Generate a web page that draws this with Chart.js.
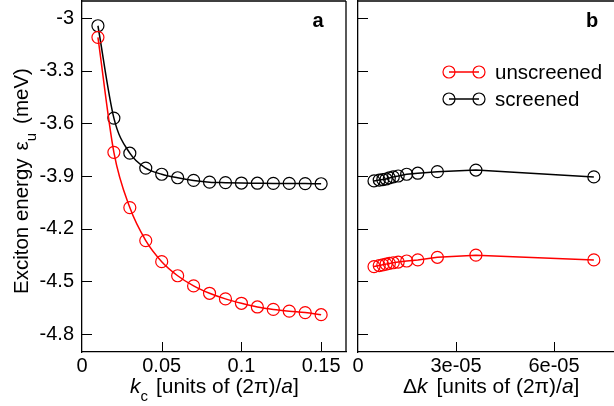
<!DOCTYPE html>
<html>
<head>
<meta charset="utf-8">
<script src="https://cdn.jsdelivr.net/npm/chart.js@4.4.0/dist/chart.umd.min.js"></script>
<style>
body { margin: 0; background: #fff; }
#wrap { position: relative; width: 614px; height: 406px; overflow: hidden; background: #fff; }
canvas { position: absolute; top: 0; }
#left__chart-canvas { left: 0; }
#right__chart-canvas { left: 352px; }
</style>
</head>
<body>
<div id="wrap">
<canvas id="left__chart-canvas" width="352" height="406"></canvas>
<canvas id="right__chart-canvas" width="262" height="406"></canvas>
</div>
<script>
// panel a: energy vs cutoff k_c
const kc = [0.01, 0.02, 0.03, 0.04, 0.05, 0.06, 0.07, 0.08, 0.09, 0.10, 0.11, 0.12, 0.13, 0.14, 0.15];
const unscreenedKc = [-3.11, -3.765, -4.08, -4.268, -4.388, -4.468, -4.526, -4.568, -4.60, -4.625, -4.646, -4.66, -4.67, -4.678, -4.69];
const screenedKc = [-3.044, -3.57, -3.77, -3.855, -3.89, -3.91, -3.925, -3.935, -3.938, -3.94, -3.941, -3.942, -3.942, -3.943, -3.944];

// panel b: energy vs grid spacing dk
const dk = [0.49e-5, 0.65e-5, 0.76e-5, 0.86e-5, 0.96e-5, 1.08e-5, 1.23e-5, 1.49e-5, 1.83e-5, 2.43e-5, 3.61e-5, 7.22e-5];
const unscreenedDk = [-4.416, -4.410, -4.406, -4.402, -4.398, -4.394, -4.390, -4.384, -4.378, -4.363, -4.351, -4.378];
const screenedDk = [-3.928, -3.923, -3.920, -3.917, -3.911, -3.905, -3.900, -3.890, -3.884, -3.875, -3.866, -3.905];

const seriesLabels = ["unscreened", "screened"];
const seriesColors = ["#ff0000", "#000000"];

const energyTicks = [-4.8, -4.5, -4.2, -3.9, -3.6, -3.3, -3];
const energyTickLabels = ["-4.8", "-4.5", "-4.2", "-3.9", "-3.6", "-3.3", "-3"];
const kcTicks = [0, 0.05, 0.1, 0.15];
const kcTickLabels = ["0", "0.05", "0.1", "0.15"];
const dkTicks = [0, 3e-5, 6e-5];
const dkTickLabels = ["0", "3e-05", "6e-05"];

const FONT = '"Liberation Sans", Arial, sans-serif';
const tickFont = { family: FONT, size: 20 };

function toPoints(xs, ys) {
    return xs.map((x, i) => ({ x: x, y: ys[i] }));
}

function makeDataset(i, xs, ys, smooth) {
    return {
        label: seriesLabels[i],
        data: toPoints(xs, ys),
        borderColor: seriesColors[i],
        borderWidth: 1.5,
        pointStyle: 'circle',
        radius: 6,
        pointBorderWidth: 1.2,
        pointBorderColor: seriesColors[i],
        pointBackgroundColor: 'rgba(0,0,0,0)',
        backgroundColor: 'rgba(0,0,0,0)',
        cubicInterpolationMode: smooth ? 'monotone' : 'default',
        tension: 0,
        fill: false,
    };
}

// frame + inward tick marks
const framePlugin = {
    id: 'frame',
    afterDraw(chart, args, opts) {
        const ctx = chart.ctx;
        const a = chart.chartArea;
        ctx.save();
        ctx.strokeStyle = '#000';
        ctx.lineWidth = 1.3;
        ctx.beginPath();
        ctx.moveTo(a.left, a.top);
        ctx.lineTo(a.right, a.top);
        if (opts.right) {
            ctx.moveTo(a.right, a.top);
            ctx.lineTo(a.right, a.bottom);
        }
        ctx.stroke();

        ctx.lineWidth = 1;
        ctx.beginPath();
        const ys = chart.scales.y;
        ys.ticks.forEach(t => {
            const p = Math.round(ys.getPixelForValue(t.value)) + 0.5;
            ctx.moveTo(a.left, p);
            ctx.lineTo(a.left + 10, p);
        });
        const xs = chart.scales.x;
        xs.ticks.forEach(t => {
            if (t.value <= xs.min) return;
            const p = Math.round(xs.getPixelForValue(t.value)) + 0.5;
            ctx.moveTo(p, a.bottom);
            ctx.lineTo(p, a.bottom - 10);
        });
        ctx.stroke();

        // panel letter
        ctx.fillStyle = '#000';
        ctx.font = 'bold 20px ' + FONT;
        ctx.textAlign = 'center';
        ctx.textBaseline = 'middle';
        ctx.fillText(opts.letter, opts.letterX, 21);
        ctx.restore();
    }
};

// axis titles with italic / subscript parts
function drawParts(ctx, parts, x, y, size) {
    let cx = x;
    parts.forEach(p => {
        ctx.font = (p.italic ? 'italic ' : '') + (p.sub ? '15px ' : size + 'px ') + FONT;
        ctx.fillText(p.text, cx, y + (p.sub ? 8 : 0));
        cx += ctx.measureText(p.text).width + (p.gap || 0);
    });
}

const leftTitlePlugin = {
    id: 'leftTitles',
    afterDraw(chart) {
        const ctx = chart.ctx;
        ctx.save();
        ctx.fillStyle = '#000';
        ctx.textBaseline = 'alphabetic';
        ctx.textAlign = 'left';
        // x title
        drawParts(ctx, [
            { text: 'k', italic: true },
            { text: 'c', sub: true, gap: 8 },
            { text: '[units of (2\u03c0)/' },
            { text: 'a', italic: true },
            { text: ']' },
        ], 130, 393, 21);
        // y title, rotated
        ctx.translate(28, 294);
        ctx.rotate(-Math.PI / 2);
        drawParts(ctx, [
            { text: 'Exciton energy', gap: 8 },
            { text: '\u03b5' },
            { text: 'u', sub: true, gap: 9 },
            { text: '(meV)' },
        ], 0, 0, 20.5);
        ctx.restore();
    }
};

const rightTitlePlugin = {
    id: 'rightTitles',
    afterDraw(chart) {
        const ctx = chart.ctx;
        ctx.save();
        ctx.fillStyle = '#000';
        ctx.textBaseline = 'alphabetic';
        ctx.textAlign = 'left';
        drawParts(ctx, [
            { text: '\u0394' },
            { text: 'k', italic: true, gap: 9 },
            { text: '[units of (2\u03c0)/' },
            { text: 'a', italic: true },
            { text: ']' },
        ], 51, 393, 21);

        // legend: line with a circle at each end
        const rows = [72, 99];
        chart.data.datasets.forEach((ds, i) => {
            const y = rows[i];
            ctx.strokeStyle = ds.borderColor;
            ctx.lineWidth = 1.5;
            ctx.beginPath();
            ctx.moveTo(97, y);
            ctx.lineTo(127, y);
            ctx.stroke();
            ctx.lineWidth = 1.2;
            [97, 127].forEach(cx => {
                ctx.beginPath();
                ctx.arc(cx, y, 6, 0, Math.PI * 2);
                ctx.stroke();
            });
            ctx.fillStyle = '#000';
            ctx.font = '20.5px ' + FONT;
            ctx.textBaseline = 'middle';
            ctx.fillText(ds.label, 143, y + 1);
        });
        ctx.restore();
    }
};

function fixHeight(h) {
    return s => { s.height = h; s.paddingLeft = 0; s.paddingRight = 0; s.paddingTop = 0; s.paddingBottom = 0; };
}
function fixWidth(w) {
    return s => { s.width = w; s.paddingLeft = 0; s.paddingRight = 0; s.paddingTop = 0; s.paddingBottom = 0; };
}

const yRange = { min: -4.9025, max: -2.903 };

let leftChart = new Chart(document.getElementById("left__chart-canvas").getContext("2d"), {
    type: 'line',
    data: {
        datasets: [
            makeDataset(0, kc, unscreenedKc, true),
            makeDataset(1, kc, screenedKc, true),
        ]
    },
    options: {
        responsive: false,
        animation: false,
        devicePixelRatio: 1,
        layout: { autoPadding: false, padding: { top: 1, right: 6, left: 0, bottom: 0 } },
        plugins: {
            legend: { display: false },
            tooltip: { enabled: false },
            frame: { right: true, letter: 'a', letterX: 318 },
        },
        scales: {
            x: {
                type: 'linear',
                min: 0,
                max: 0.1656,
                grid: { display: false, drawTicks: false },
                border: { display: true, color: '#000', width: 1.3 },
                ticks: {
                    color: '#000', font: tickFont, padding: 2, maxRotation: 0, autoSkip: false,
                    callback: (v, i) => kcTickLabels[i],
                },
                afterBuildTicks: s => { s.ticks = kcTicks.map(v => ({ value: v })); },
                afterFit: fixHeight(54),
            },
            y: {
                type: 'linear',
                min: yRange.min,
                max: yRange.max,
                grid: { display: false, drawTicks: false },
                border: { display: true, color: '#000', width: 1.3 },
                ticks: {
                    color: '#000', font: tickFont, padding: 8, autoSkip: false,
                    callback: (v, i) => energyTickLabels[i],
                },
                afterBuildTicks: s => { s.ticks = energyTicks.map(v => ({ value: v })); },
                afterFit: fixWidth(82),
            }
        }
    },
    plugins: [framePlugin, leftTitlePlugin]
});

let rightChart = new Chart(document.getElementById("right__chart-canvas").getContext("2d"), {
    type: 'line',
    data: {
        datasets: [
            makeDataset(0, dk, unscreenedDk, false),
            makeDataset(1, dk, screenedDk, false),
        ]
    },
    options: {
        responsive: false,
        animation: false,
        devicePixelRatio: 1,
        layout: { autoPadding: false, padding: { top: 1, right: 0, left: 0, bottom: 0 } },
        plugins: {
            legend: { display: false },
            tooltip: { enabled: false },
            frame: { right: false, letter: 'b', letterX: 240 },
        },
        scales: {
            x: {
                type: 'linear',
                min: 0,
                max: 7.837e-5,
                grid: { display: false, drawTicks: false },
                border: { display: true, color: '#000', width: 1.3 },
                ticks: {
                    color: '#000', font: tickFont, padding: 2, maxRotation: 0, autoSkip: false,
                    callback: (v, i) => dkTickLabels[i],
                },
                afterBuildTicks: s => { s.ticks = dkTicks.map(v => ({ value: v })); },
                afterFit: fixHeight(54),
            },
            y: {
                type: 'linear',
                min: yRange.min,
                max: yRange.max,
                grid: { display: false, drawTicks: false },
                border: { display: true, color: '#000', width: 1.3 },
                ticks: { display: false },
                afterBuildTicks: s => { s.ticks = energyTicks.map(v => ({ value: v })); },
                afterFit: fixWidth(6),
            }
        }
    },
    plugins: [framePlugin, rightTitlePlugin]
});
</script>
</body>
</html>
